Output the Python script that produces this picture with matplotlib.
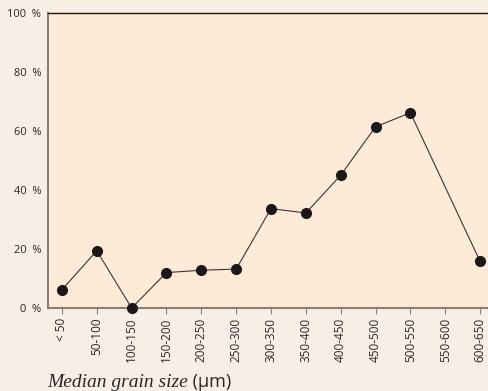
import numpy as np
import matplotlib
matplotlib.use("Agg")
import matplotlib.pyplot as plt

# grain size classes (um) and share (%)
categories = ["< 50", "50-100", "100-150", "150-200", "200-250", "250-300",
              "300-350", "350-400", "400-450", "450-500", "500-550",
              "550-600", "600-650"]
# 550-600 has no value, the line joins 500-550 to 600-650
values = [6.2, 19.4, 0.0, 12.0, 12.8, 13.2, 33.7, 32.2, 45.0, 61.4, 66.2,
          None, 15.8]
y_ticks = [0, 20, 40, 60, 80, 100]
y_labels = ["0\u2002%", "20\u2002%", "40\u2002%", "60\u2002%", "80\u2002%", "100\u2002%"]

FIG_BG = "#f7efe6"
AX_BG = "#fdebd7"

plt.rcParams['font.family'] = ['Open Sans', 'DejaVu Sans']

fig = plt.figure(figsize=(4.88, 3.91), dpi=100, facecolor=FIG_BG)
ax = fig.add_axes([48/488, (391-308)/391, (494-48)/488, (308-13)/391])
ax.set_facecolor(AX_BG)

xs = [i for i, v in enumerate(values) if v is not None]
ys = [v for v in values if v is not None]
ax.plot(xs, ys, color="#3a3434", lw=0.8, marker="o", ms=7,
        mfc="#1c1819", mec="#1c1819", clip_on=False, zorder=3)

ax.set_xlim(-0.4, len(categories) - 0.6)
ax.set_ylim(0, 100)
ax.set_xticks(range(len(categories)))
ax.set_xticklabels(categories, rotation=90, fontsize=8.5, color="#2b2626")
ax.set_yticks(y_ticks)
ax.set_yticklabels(y_labels, fontsize=8, color="#2b2626")
ax.tick_params(axis="y", length=0, pad=5)
ax.tick_params(axis="x", length=4, width=0.8, color="#8a7f78", pad=3)

for side in ["left", "bottom"]:
    ax.spines[side].set_color("#8a7f78")
    ax.spines[side].set_linewidth(1.5)
ax.spines["top"].set_color("#1c1819")
ax.spines["top"].set_linewidth(1.0)
ax.spines["right"].set_visible(False)

t = fig.text(47/488, 4/391, "Median grain size", fontsize=14, style="italic",
             family=["Liberation Serif", "DejaVu Serif"], color="#2b2626",
             ha="left", va="baseline")
fig.canvas.draw()
ax.annotate(" (\u00b5m)", xy=(1, 0), xycoords=t, va="bottom", ha="left",
            fontsize=13, color="#2b2626", annotation_clip=False)

fig.savefig("out.png", dpi=100, facecolor=FIG_BG)
